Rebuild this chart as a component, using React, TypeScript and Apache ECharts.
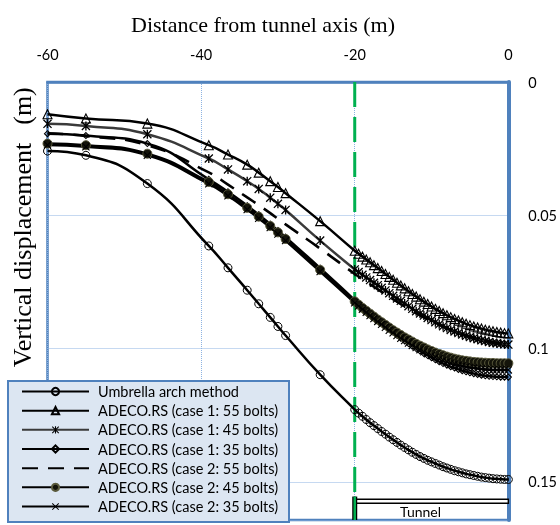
import React, { useEffect, useRef } from "react";
import * as echarts from "echarts";

// Distance from tunnel axis (m)
const distance = [-60, -55, -47, -39, -36.5, -34, -32.5, -31, -30, -29, -24.5, -20, -19.5, -19, -18.5, -18, -17.5, -17, -16.5, -16, -15.5, -15, -14.5, -14, -13.5, -13, -12.5, -12, -11.5, -11, -10.5, -10, -9.5, -9, -8.5, -8, -7.5, -7, -6.5, -6, -5.5, -5, -4.5, -4, -3.5, -3, -2.5, -2, -1.5, -1, -0.5, 0];

// Vertical displacement (m)
const umbrella = [0.0259, 0.0275, 0.0381, 0.0615, 0.0697, 0.0781, 0.0832, 0.0883, 0.0917, 0.0951, 0.1098, 0.1229, 0.1242, 0.1254, 0.1266, 0.1278, 0.1289, 0.13, 0.1311, 0.1321, 0.1332, 0.1342, 0.1352, 0.1362, 0.1371, 0.138, 0.1389, 0.1397, 0.1405, 0.1412, 0.1419, 0.1425, 0.1431, 0.1437, 0.1443, 0.1448, 0.1453, 0.1458, 0.1462, 0.1466, 0.147, 0.1473, 0.1476, 0.1479, 0.1482, 0.1484, 0.1486, 0.1488, 0.1489, 0.149, 0.1491, 0.1491];
const case1_55 = [0.0121, 0.0137, 0.0156, 0.0237, 0.0272, 0.031, 0.034, 0.0372, 0.0394, 0.0417, 0.0522, 0.0633, 0.0644, 0.0655, 0.0666, 0.0676, 0.0687, 0.0698, 0.0709, 0.072, 0.0731, 0.0742, 0.0753, 0.0763, 0.0774, 0.0785, 0.0795, 0.0805, 0.0815, 0.0824, 0.0833, 0.0842, 0.0851, 0.0859, 0.0867, 0.0875, 0.0882, 0.0889, 0.0895, 0.0901, 0.0907, 0.0912, 0.0917, 0.0921, 0.0925, 0.0929, 0.0932, 0.0935, 0.0938, 0.094, 0.0942, 0.0943];
const case1_45 = [0.0157, 0.0165, 0.0196, 0.0287, 0.0328, 0.0372, 0.0401, 0.0434, 0.0457, 0.048, 0.0595, 0.0703, 0.0713, 0.0723, 0.0733, 0.0743, 0.0753, 0.0762, 0.0772, 0.0782, 0.0792, 0.0802, 0.0812, 0.0821, 0.0831, 0.0841, 0.0851, 0.086, 0.0868, 0.0876, 0.0885, 0.0893, 0.0901, 0.0909, 0.0916, 0.0923, 0.093, 0.0936, 0.0942, 0.0947, 0.0952, 0.0957, 0.0961, 0.0965, 0.0969, 0.0972, 0.0975, 0.0978, 0.098, 0.0982, 0.0984, 0.0985];
const case1_35 = [0.0194, 0.0201, 0.0231, 0.0365, 0.0412, 0.0464, 0.0498, 0.0533, 0.0557, 0.0582, 0.0698, 0.0818, 0.0831, 0.0844, 0.0857, 0.0869, 0.0881, 0.0893, 0.0905, 0.0917, 0.0928, 0.0939, 0.095, 0.0961, 0.0971, 0.0981, 0.0991, 0.1, 0.1009, 0.1018, 0.1026, 0.1034, 0.1042, 0.1049, 0.1056, 0.1062, 0.1068, 0.1073, 0.1078, 0.1083, 0.1087, 0.1091, 0.1094, 0.1097, 0.11, 0.1102, 0.1104, 0.1105, 0.1106, 0.1107, 0.1107, 0.1107];
const case2_55 = [0.0192, 0.0203, 0.0237, 0.0339, 0.0385, 0.0433, 0.0462, 0.0492, 0.0513, 0.0534, 0.0625, 0.072, 0.073, 0.074, 0.0749, 0.0759, 0.0768, 0.0778, 0.0787, 0.0797, 0.0806, 0.0815, 0.0824, 0.0833, 0.0842, 0.0851, 0.0859, 0.0867, 0.0875, 0.0883, 0.089, 0.0897, 0.0904, 0.0911, 0.0918, 0.0924, 0.093, 0.0936, 0.0941, 0.0946, 0.0951, 0.0955, 0.0959, 0.0963, 0.0967, 0.097, 0.0973, 0.0976, 0.0979, 0.0981, 0.0983, 0.0985];
const case2_45 = [0.0231, 0.0237, 0.0269, 0.0375, 0.0421, 0.0472, 0.0505, 0.054, 0.0564, 0.0589, 0.0705, 0.0823, 0.0835, 0.0847, 0.0858, 0.0869, 0.088, 0.0891, 0.0901, 0.0911, 0.0921, 0.0931, 0.094, 0.0949, 0.0958, 0.0966, 0.0974, 0.0982, 0.0989, 0.0996, 0.1003, 0.1009, 0.1015, 0.102, 0.1025, 0.103, 0.1034, 0.1038, 0.1041, 0.1044, 0.1046, 0.1048, 0.105, 0.1051, 0.1052, 0.1053, 0.1054, 0.1054, 0.1055, 0.1055, 0.1055, 0.1055];
const case2_35 = [0.0236, 0.0243, 0.0275, 0.0382, 0.0427, 0.0478, 0.0511, 0.0546, 0.057, 0.0595, 0.0711, 0.0828, 0.084, 0.0852, 0.0864, 0.0876, 0.0887, 0.0898, 0.0909, 0.092, 0.0931, 0.0941, 0.0951, 0.0961, 0.097, 0.0979, 0.0988, 0.0996, 0.1004, 0.1012, 0.1019, 0.1026, 0.1032, 0.1038, 0.1044, 0.1049, 0.1054, 0.1058, 0.1062, 0.1065, 0.1068, 0.1071, 0.1073, 0.1075, 0.1077, 0.1078, 0.1079, 0.108, 0.108, 0.108, 0.108, 0.108];

const seriesNames = [
  "Umbrella arch method",
  "ADECO.RS (case 1: 55 bolts)",
  "ADECO.RS (case 1: 45 bolts)",
  "ADECO.RS (case 1: 35 bolts)",
  "ADECO.RS (case 2: 55 bolts)",
  "ADECO.RS (case 2: 45 bolts)",
  "ADECO.RS (case 2: 35 bolts)",
];

// Tunnel face position and tunnel extent
const faceX = -20;
const tunnelX = [-20, 0];
const tunnelY = [0.1565, 0.158];
const faceLineY = [0, 0.1555];
const faceEdgeY = [0.1555, 0.1643];

const xTicks = { min: -60, max: 0, interval: 20 };
const yTicks = { min: 0, max: 0.1643, interval: 0.05 };

const ASTERISK =
  "path://M8.5,0 L11.5,0 L11.5,20 L8.5,20 Z M0,2 L2,0 L20,18 L18,20 Z M18,0 L20,2 L2,20 L0,18 Z";
const CROSS = "path://M0,2 L2,0 L20,18 L18,20 Z M18,0 L20,2 L2,20 L0,18 Z";

const pairs = (ys: number[]) => distance.map((x, i) => [x, ys[i]]);

export default function App() {
  const ref = useRef<HTMLDivElement>(null);
  useEffect(() => {
    if (!ref.current) return;
    const chart = echarts.init(ref.current, undefined, { renderer: "svg" });
    const base = {
      type: "line",
      smooth: 0.5,
      showSymbol: true,
      showAllSymbol: true,
      z: 3,
    };
    const hollow = (w = 1.1) => ({ color: "transparent", borderColor: "#000", borderWidth: w });
    const option: any = {
      animation: false,
      grid: {
        left: 47.5,
        right: 51,
        top: 82,
        bottom: 5,
        show: true,
        borderColor: "#4f81bd",
        borderWidth: 2.5,
        backgroundColor: "transparent",
      },
      xAxis: {
        type: "value",
        position: "top",
        min: xTicks.min,
        max: xTicks.max,
        interval: xTicks.interval,
        axisLine: { show: true, onZero: false, lineStyle: { color: "#4f81bd", width: 2.5 } },
        axisTick: { show: false },
        axisLabel: { margin: 20, fontSize: 14.5, fontFamily: "Lato", color: "#000" },
        splitLine: { show: true, lineStyle: { color: "#8db3e2", type: "dotted", width: 1 } },
      },
      yAxis: {
        type: "value",
        position: "right",
        inverse: true,
        min: yTicks.min,
        max: yTicks.max,
        interval: yTicks.interval,
        axisLine: { show: true, onZero: false, lineStyle: { color: "#4f81bd", width: 4 } },
        axisTick: { show: false },
        axisLabel: {
          margin: 20,
          fontSize: 14.5,
          fontFamily: "Lato",
          color: "#000",
          showMaxLabel: false,
        },
        splitLine: { show: true, lineStyle: { color: "#8db3e2", type: "dotted", width: 1 } },
      },
      legend: {
        data: seriesNames,
        orient: "vertical",
        left: 21,
        top: 382,
        padding: 0,
        itemWidth: 67,
        itemHeight: 9,
        itemGap: 0.17,
        selectedMode: false,
        z: 20,
        textStyle: {
          fontFamily: "Lato",
          fontSize: 14.5,
          color: "#000",
          lineHeight: 19,
          padding: [0, 0, 0, 4],
        },
      },
      graphic: [
        {
          type: "rect",
          z: 10,
          shape: { x: 8, y: 381, width: 281, height: 141 },
          style: { fill: "#dce6f2", stroke: "#4f81bd", lineWidth: 2 },
        },
        {
          type: "text",
          x: 263,
          y: 24,
          style: {
            text: "Distance from tunnel axis (m)",
            fontFamily: "Liberation Serif",
            fontSize: 22,
            fill: "#000",
            align: "center",
            verticalAlign: "middle",
          },
        },
        {
          type: "text",
          x: 22,
          y: 255,
          rotation: Math.PI / 2,
          style: {
            text: "Vertical displacement",
            fontFamily: "Liberation Serif",
            fontSize: 26,
            fill: "#000",
            align: "center",
            verticalAlign: "middle",
          },
        },
        {
          type: "text",
          x: 22,
          y: 106,
          rotation: Math.PI / 2,
          style: {
            text: "(m)",
            fontFamily: "Liberation Serif",
            fontSize: 26,
            fill: "#000",
            align: "center",
            verticalAlign: "middle",
          },
        },
      ],
      series: [
        {
          name: "face",
          type: "line",
          data: faceLineY.map((y) => [faceX, y]),
          symbol: "none",
          silent: true,
          z: 2,
          lineStyle: { color: "#00b050", width: 3, type: [25, 10] },
        },
        {
          name: "faceEdge",
          type: "line",
          data: faceEdgeY.map((y) => [faceX, y]),
          symbol: "none",
          silent: true,
          z: 2,
          lineStyle: { color: "#000", width: 5 },
        },
        {
          name: "faceEdgeGreen",
          type: "line",
          data: faceEdgeY.map((y) => [faceX, y]),
          symbol: "none",
          silent: true,
          z: 2,
          lineStyle: { color: "#00b050", width: 2.5 },
        },
        {
          name: "tunnel",
          type: "line",
          data: [],
          silent: true,
          markArea: {
            silent: true,
            itemStyle: { color: "#fff", borderColor: "#000", borderWidth: 1.5 },
            label: {
              show: true,
              position: "bottom",
              distance: 1,
              offset: [-11, 0],
              fontFamily: "Lato",
              fontSize: 14,
              color: "#000",
            },
            data: [
              [
                { name: "Tunnel", xAxis: tunnelX[0], yAxis: tunnelY[0] },
                { xAxis: tunnelX[1], yAxis: tunnelY[1] },
              ],
            ],
          },
        },
        {
          ...base,
          name: seriesNames[0],
          data: pairs(umbrella),
          symbol: "circle",
          symbolSize: 8,
          itemStyle: hollow(1),
          lineStyle: { color: "#000", width: 2.5 },
        },
        {
          ...base,
          name: seriesNames[1],
          data: pairs(case1_55),
          symbol: "triangle",
          symbolSize: 9,
          itemStyle: hollow(1.1),
          lineStyle: { color: "#000", width: 2.5 },
        },
        {
          ...base,
          name: seriesNames[2],
          data: pairs(case1_45),
          symbol: ASTERISK,
          symbolSize: 9,
          itemStyle: { color: "#000" },
          lineStyle: { color: "#3a3a3a", width: 2.5 },
        },
        {
          ...base,
          name: seriesNames[3],
          data: pairs(case1_35),
          symbol: "diamond",
          symbolSize: 6,
          itemStyle: hollow(1.1),
          lineStyle: { color: "#000", width: 2.5 },
        },
        {
          ...base,
          name: seriesNames[4],
          data: pairs(case2_55),
          symbol: "none",
          itemStyle: { color: "transparent" },
          lineStyle: { color: "#000", width: 2.6, type: [16, 10] },
        },
        {
          ...base,
          name: seriesNames[5],
          data: pairs(case2_45),
          symbol: "circle",
          symbolSize: 9,
          itemStyle: { color: "#14140a", borderColor: "#5a5a3c", borderWidth: 1 },
          lineStyle: { color: "#000", width: 2.5 },
        },
        {
          ...base,
          name: seriesNames[6],
          data: pairs(case2_35),
          symbol: CROSS,
          symbolSize: 8,
          itemStyle: { color: "#000" },
          lineStyle: { color: "#000", width: 2.5 },
        },
      ],
    };
    chart.setOption(option);
    return () => chart.dispose();
  }, []);
  return (
    <div
      ref={ref}
      style={{ position: "fixed", left: 0, top: 0, width: 560, height: 525 }}
    />
  );
}
